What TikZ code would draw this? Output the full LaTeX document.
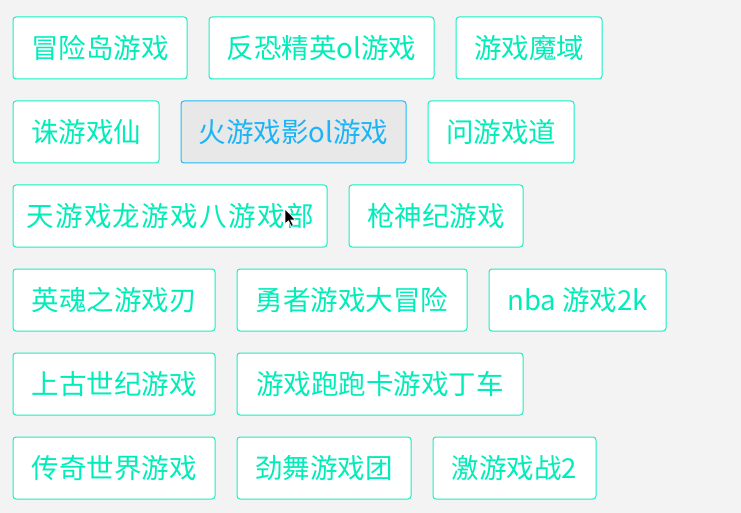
\documentclass[tikz,border=0pt]{standalone}
\usepackage{fontspec}
\newfontfamily\cjk{Noto Sans CJK SC}
\usetikzlibrary{positioning}

\definecolor{pagebg}{HTML}{F3F3F3}
\definecolor{tagline}{HTML}{14F0C3}
\definecolor{tagtext}{HTML}{00EDBA}
\definecolor{pickline}{HTML}{1EBEF5}
\definecolor{picktext}{HTML}{1CB4F7}
\definecolor{pickfill}{HTML}{E8E8E8}

\tikzset{
  game/.style={draw=tagline, fill=white, line width=1pt, rounded corners=3pt,
    text=tagtext, minimum height=62pt, inner xsep=0pt,
    text height=22.8pt, text depth=1.9pt,
    font=\cjk\fontsize{27.5}{27.5}\selectfont},
  picked/.style={game, draw=pickline, fill=pickfill, text=picktext},
}

\begin{document}
\begin{tikzpicture}[x=1pt, y=-1pt, node distance=21pt]
  \useasboundingbox[fill=pagebg] (0,0) rectangle (741,513);
  % row 1
  \node[game, minimum width=174pt, anchor=north west] (g11) at (12.5,16.5) {冒险岛游戏};
  \node[game, minimum width=225pt] (g12) [right=of g11] {反恐精英ol游戏};
  \node[game, minimum width=146pt] (g13) [right=of g12] {游戏魔域};
  % row 2
  \node[game, minimum width=146pt] (g21) [below right=21pt and 0pt of g11.south west] {诛游戏仙};
  \node[picked, minimum width=225pt] (g22) [right=of g21] {火游戏影ol游戏};
  \node[game, minimum width=146pt] (g23) [right=of g22] {问游戏道};
  % row 3
  \node[game, minimum width=314pt] (g31) [below right=21pt and 0pt of g21.south west]
    {\addfontfeatures{LetterSpace=5}天游戏龙游戏八游戏部};
  \node[game, minimum width=174pt] (g32) [right=of g31] {枪神纪游戏};
  % row 4
  \node[game, minimum width=202pt] (g41) [below right=21pt and 0pt of g31.south west] {英魂之游戏刃};
  \node[game, minimum width=230pt] (g42) [right=of g41] {勇者游戏大冒险};
  \node[game, minimum width=177pt] (g43) [right=of g42] {nba 游戏2k};
  % row 5
  \node[game, minimum width=202pt] (g51) [below right=21pt and 0pt of g41.south west] {上古世纪游戏};
  \node[game, minimum width=286pt] (g52) [right=of g51] {游戏跑跑卡游戏丁车};
  % row 6
  \node[game, minimum width=202pt] (g61) [below right=21pt and 0pt of g51.south west] {传奇世界游戏};
  \node[game, minimum width=174pt] (g62) [right=of g61] {劲舞游戏团};
  \node[game, minimum width=163pt] (g63) [right=of g62] {激游戏战2};
  % mouse pointer
  \coordinate (tip) at (285,209);
  \filldraw[fill=black, draw=white, line width=0.6pt, line join=miter]
    (tip) -- ++(0,15) -- ++(3.5,-3.2) -- ++(2.6,5.6) -- ++(2.2,-1)
    -- ++(-2.6,-5.4) -- ++(4.8,0) -- cycle;
\end{tikzpicture}
\end{document}
